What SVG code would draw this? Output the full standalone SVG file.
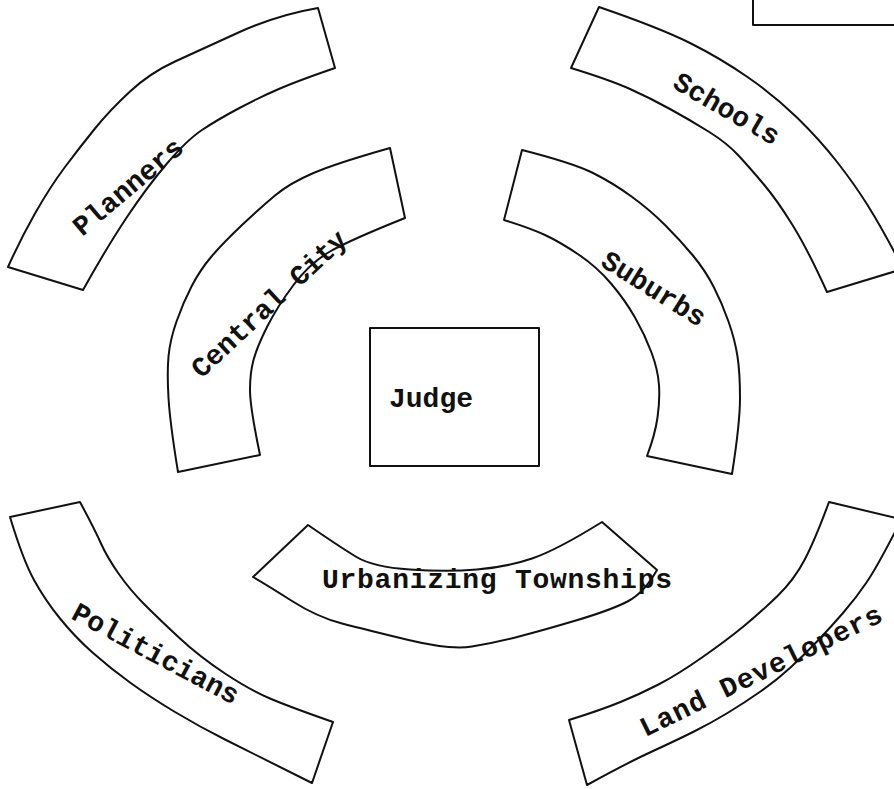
<svg xmlns="http://www.w3.org/2000/svg" width="894" height="789" viewBox="0 0 894 789">
<style>
.band{fill:none;stroke:#111;stroke-width:2;stroke-linejoin:round;stroke-linecap:round}
.lbl{font-family:"Liberation Mono","Courier New",monospace;font-size:28px;font-weight:bold;fill:#111}
.c{text-anchor:middle;dominant-baseline:central}
</style>
<rect width="894" height="789" fill="#fff"/>
<g id="corner-box"><path class="band" d="M753,0 V25 H896"/></g>
<g id="judge">
<rect class="band" x="370" y="328" width="169" height="138"/>
<text class="lbl" x="389" y="407">Judge</text>
</g>
<g id="planners">
<path class="band" d="M318,8 Q277,15 238.5,32.5 Q200,50 175,61.5 Q150,73 130,91.5 Q110,110 95,128.5 Q80,147 65,167 Q50,187 35,213.5 Q20,240 8,267 L83,290 Q107,247 127,217 Q147,187 167,163.5 Q187,140 202,130 Q217,120 238.5,108.5 Q260,97 280,88.5 Q300,80 335,68 Z"/>
<text class="lbl c" transform="translate(129,188) rotate(-40)">Planners</text>
</g>
<g id="schools">
<path class="band" d="M896,271 L827,292 Q808,250 792.5,225 Q777,200 763.5,184 Q750,168 738.5,155.5 Q727,143 708.5,131.5 Q690,120 670,109 Q650,98 630,89 Q610,80 571,68 L599,7 Q660,28 690,43 Q720,58 747.5,77 Q775,96 797.5,118 Q820,140 837.5,162.5 Q855,185 867.5,205 Q880,225 896,255"/>
<text class="lbl c" transform="translate(726,110) rotate(30)">Schools</text>
</g>
<g id="central-city">
<path class="band" d="M390,148 Q337,163 313.5,173 Q290,183 275,195.5 Q260,208 241.5,225.5 Q223,243 211.5,256.5 Q200,270 191.5,286.5 Q183,303 176.5,321.5 Q170,340 168.5,356.5 Q167,373 168.5,398 Q170,423 178,472 L260,455 Q250,407 250,390 Q250,373 253.5,360 Q257,347 267,327 Q277,307 293.5,285 Q310,263 330,251.5 Q350,240 405,218 Z"/>
<text class="lbl c" transform="translate(270,305) rotate(-43)">Central City</text>
</g>
<g id="suburbs">
<path class="band" d="M522,150 Q573,163 593,173 Q613,183 631.5,196.5 Q650,210 665,225 Q680,240 692.5,255 Q705,270 713.5,286.5 Q722,303 728.5,321.5 Q735,340 737.5,356.5 Q740,373 740,398 Q740,423 732,474 L647,456 Q655,435 657.5,417.5 Q660,400 659,385 Q658,370 651.5,352.5 Q645,335 635,317.5 Q625,300 611,283.5 Q597,267 578.5,254.5 Q560,242 545,235 Q530,228 504,220 Z"/>
<text class="lbl c" transform="translate(653,290) rotate(32)">Suburbs</text>
</g>
<g id="urbanizing-townships">
<path class="band" d="M253,577 L308,525 Q340,547 356.5,557 Q373,567 410,569.5 Q447,572 477,569.5 Q507,567 532,558.5 Q557,550 602,522 L657,570 Q644,593 627.5,601.5 Q611,610 577.5,620 Q544,630 519,636.5 Q494,643 472,646.5 Q450,650 408.5,640 Q367,630 342,623.5 Q317,617 292,601 Q267,585 253,577 Z"/>
<text class="lbl" x="322" y="588" textLength="350" lengthAdjust="spacing">Urbanizing Townships</text>
</g>
<g id="politicians">
<path class="band" d="M10,517 Q23,560 34,580 Q45,600 60,618.5 Q75,637 92.5,652.5 Q110,668 130,682.5 Q150,697 175,712 Q200,727 225,739.5 Q250,752 312,783 L333,722 Q290,707 270,698.5 Q250,690 225,673.5 Q200,657 180,638.5 Q160,620 145,605 Q130,590 118.5,573.5 Q107,557 101,543.5 Q95,530 80,502 Z"/>
<text class="lbl c" transform="translate(155,655) rotate(28)">Politicians</text>
</g>
<g id="land-developers">
<path class="band" d="M896,518 L829,502 Q815,540 804.5,560 Q794,580 777.5,596 Q761,612 744,626 Q727,640 702,657.5 Q677,675 658.5,684.5 Q640,694 620.5,702 Q601,710 569,720 L587,785 Q627,763 652,751.5 Q677,740 694,731.5 Q711,723 727.5,713 Q744,703 760.5,691.5 Q777,680 790.5,667.5 Q804,655 817,641.5 Q830,628 843,613 Q856,598 866.5,582.5 Q877,567 896,530"/>
<text class="lbl c" transform="translate(762,672) rotate(-26)" letter-spacing="1">Land Developers</text>
</g>
<g id="connectors"></g>
</svg>
